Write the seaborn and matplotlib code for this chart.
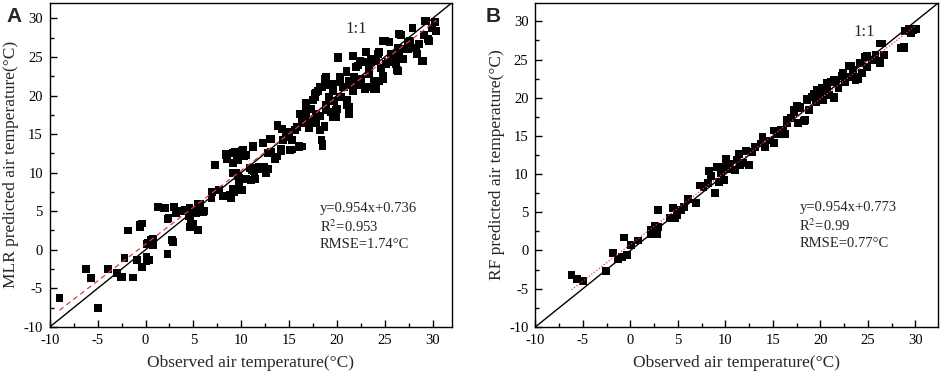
import numpy as np
import pandas as pd
import matplotlib
matplotlib.use("Agg")
import matplotlib.pyplot as plt
import seaborn as sns
from matplotlib.ticker import MultipleLocator

sns.set_theme(style="white")
plt.rcParams['font.family'] = ['Liberation Serif', 'DejaVu Serif']
plt.rcParams['mathtext.fontset'] = 'stix'
plt.rcParams['axes.unicode_minus'] = False

# ---------------- Panel A: MLR ----------------
mlr_obs = [-9.0, -6.2, -5.7, -5.0, -3.9, -3.0, -2.6, -2.2, -1.3, -1.8, -0.9, -0.6, -0.4, -0.4, 0.1, 0.4,
           0.2, 0.8, 0.8, 1.3, 1.9, 2.3, 2.3, 2.8, 2.9, 3.0, 3.2, 3.7, 4.1, 4.5, 4.7, 4.7, 4.9, 5.3, 5.5,
           5.5, 6.1, 6.9, 6.9, 7.3, 7.7, 8.3, 8.4, 8.5, 8.8, 8.9, 9.1, 9.1, 9.3, 9.5, 9.6, 9.7, 9.8, 9.8,
           10.1, 10.1, 10.3, 10.5, 10.9, 11.0, 11.2, 11.3, 11.6, 11.9, 12.3, 12.4, 12.6, 12.8, 13.0, 13.1,
           13.5, 13.7, 13.8, 14.2, 14.3, 14.4, 14.7, 15.0, 15.3, 15.3, 15.6, 15.8, 16.0, 16.3, 16.4, 16.6,
           16.8, 17.1, 17.3, 17.5, 17.7, 17.8, 18.0, 18.2, 18.4, 18.5, 18.7, 18.7, 18.9, 19.2, 19.4, 19.6,
           19.7, 19.9, 20.0, 20.1, 20.3, 20.4, 20.8, 21.0, 21.1, 21.3, 21.5, 21.7, 21.8, 22.2, 22.3, 22.7,
           22.9, 23.0, 23.4, 23.6, 23.9, 24.1, 24.3, 24.6, 24.8, 25.0, 25.3, 25.5, 25.8, 26.2, 26.3, 26.5,
           26.9, 27.0, 27.4, 27.9, 28.3, 28.4, 28.9, 29.2, 29.1, 29.6, 29.9, 30.2, 30.4,
           # dense cluster
           29.3, 30.3, 30.4, 27.9, 26.7, 25.5, 24.8, 27.6, 28.6, 29.5, 26.4, 27.4, 28.4, 29.0, 24.4, 25.7,
           26.5, 23.1, 21.7, 20.1, 26.2, 26.4, 25.1, 24.1, 23.4, 22.4, 22.0, 21.0, 23.4, 24.8, 24.4, 23.9,
           23.1, 22.5, 21.3, 20.3, 18.9, 19.6, 20.6, 21.7, 18.5, 17.8, 19.2, 20.3, 21.1, 21.3, 21.3, 19.9,
           18.9, 19.6, 18.7, 17.5, 16.8, 17.8, 17.1, 16.4, 18.2,
           # middle
           8.4, 9.3, 10.2, 9.7, 11.2, 12.3, 13.1, 13.8, 14.7, 15.6, 16.1, 15.1, 14.2, 16.1, 17.0, 17.8,
           18.7, 18.4, 18.5, 16.8, 17.7, 18.2, 18.9, 12.8, 11.9, 11.1, 11.4, 10.5, 9.8, 9.5, 9.1, 10.0,
           9.1, 8.1, 7.0, 8.9, 5.7,
           # lower
           2.0, 3.0, 4.6, 5.5, 5.3, 6.0, 5.0, 4.6, 5.5, 2.4, 2.9, 0.6, 0.1, -0.6, 0.1, -2.5]
mlr_pred = [-6.3, -2.5, -3.7, -7.5, -2.5, -3.0, -3.5, -1.1, -3.6, 2.5, -1.3, 2.9, 3.4, -2.2, -0.9, -1.3,
            0.9, 1.4, 0.6, 5.5, 5.4, 4.0, -0.6, 1.3, 1.0, 5.5, 4.7, 5.0, 5.2, 4.4, 5.2, 3.8, 2.9, 4.7, 2.6,
            5.9, 5.0, 7.5, 6.7, 11.0, 7.7, 6.9, 12.4, 11.7, 7.1, 6.7, 12.5, 9.9, 7.5, 12.7, 12.0, 9.6, 8.2, 9.3,
            12.8, 7.7, 12.1, 12.3, 10.6, 9.1, 13.3, 10.2, 10.6, 10.4, 13.8, 10.8, 10.0, 12.6, 14.4, 12.7,
            11.7, 12.1, 16.2, 12.8, 15.7, 14.2, 14.6, 15.3, 14.2, 13.0, 15.5, 15.9, 13.3, 16.6, 13.4, 17.2,
            17.8, 15.8, 18.3, 16.8, 19.8, 16.4, 20.6, 17.4, 14.2, 13.7, 16.0, 22.2, 18.8, 21.4, 17.9, 20.6,
            19.3, 17.2, 18.3, 24.9, 21.8, 19.8, 21.1, 23.0, 18.8, 17.7, 21.4, 25.1, 22.4, 23.9, 21.4, 24.3,
            20.9, 25.6, 23.0, 24.7, 21.9, 20.8, 25.4, 23.6, 22.1, 27.1, 24.3, 26.9, 25.4, 24.3, 23.3, 28.0,
            24.7, 26.0, 26.9, 28.8, 26.2, 25.4, 24.5, 29.7, 27.8, 27.1, 28.8, 29.6, 28.3,
            # dense cluster
            29.7, 29.5, 28.4, 28.8, 27.9, 26.9, 27.1, 27.1, 26.7, 27.3, 26.2, 26.0, 25.4, 24.5, 25.6, 25.4,
            25.2, 25.6, 25.2, 25.0, 24.1, 23.2, 24.1, 24.5, 24.1, 24.5, 23.7, 23.2, 22.8, 22.6, 21.9, 20.9,
            21.1, 22.2, 21.9, 22.4, 22.4, 21.5, 21.1, 20.6, 21.1, 20.4, 19.8, 19.8, 19.4, 18.5, 17.6, 18.1,
            18.5, 17.2, 16.1, 19.4, 18.5, 17.6, 16.8, 16.4, 15.5,
            # middle
            12.3, 12.7, 12.9, 11.6, 13.5, 13.8, 14.4, 16.1, 15.3, 15.5, 13.5, 12.9, 13.1, 17.6, 16.6, 16.4,
            15.9, 14.2, 13.5, 19.0, 20.2, 21.1, 18.1, 10.5, 10.7, 10.3, 9.2, 9.2, 9.0, 9.9, 11.2, 7.7,
            7.9, 7.0, 7.5, 6.8, 6.0,
            # lower
            5.4, 5.6, 5.4, 6.0, 4.9, 4.9, 3.4, 3.0, 2.6, 4.1, 1.0, 1.3, 0.8, 3.2, -1.5, -3.5]

# ---------------- Panel B: RF ----------------
rf_obs = [-6.2, -5.6, -5.0, -2.6, -1.8, -1.3, -0.9, -0.7, -0.4, 0.1, 0.8, 2.2, 2.2, 2.6, 2.8, 2.9, 2.9,
          4.2, 4.5, 4.7, 4.9, 5.3, 5.6, 6.1, 6.9, 7.3, 7.7, 8.2, 8.3, 8.5, 8.9, 9.1, 9.3, 9.5, 9.6, 9.9,
          10.1, 10.3, 10.5, 11.0, 11.2, 11.4, 11.5, 11.9, 12.2, 12.5, 12.8, 13.1, 13.7, 13.9, 14.2, 14.7,
          15.1, 15.1, 15.4, 15.8, 16.3, 16.5, 16.9, 17.2, 17.5, 17.6, 17.9, 18.3, 18.6, 18.8, 19.1, 19.5,
          19.6, 20.0, 20.2, 20.3, 20.7, 20.9, 21.1, 21.4, 21.7, 21.9, 22.3, 22.6, 23.0, 23.1, 23.4, 23.7,
          24.0, 24.2, 24.4, 24.7, 24.9, 25.4, 25.8, 26.3, 26.5, 26.7, 28.5, 28.8, 28.9, 29.5, 29.6, 30.1,
          # dense cluster
          26.3, 28.8, 29.3, 29.8, 24.9, 26.3, 24.2, 23.2, 22.4, 23.5, 21.4, 20.7, 20.3, 19.3, 18.6, 17.9,
          17.2, 16.5, 16.1, 18.4, 21.4, 20.0]
rf_pred = [-3.2, -3.7, -4.0, -2.7, -0.3, -1.1, -0.9, 1.7, -0.6, 0.7, 1.3, 2.7, 2.1, 3.2, 2.2, 5.3, 3.1,
           4.2, 5.6, 4.3, 4.6, 5.3, 5.7, 6.7, 6.2, 8.5, 8.3, 8.8, 10.4, 9.8, 7.5, 10.9, 9.0, 10.1, 10.9, 9.2,
           12.0, 10.7, 11.3, 10.5, 11.8, 12.6, 11.2, 11.4, 13.0, 11.2, 12.9, 13.6, 14.0, 14.9, 13.6, 14.4,
           15.7, 14.1, 15.3, 15.8, 15.3, 16.7, 17.3, 18.1, 18.9, 16.7, 18.6, 17.0, 19.9, 18.4, 20.1, 19.4,
           21.0, 20.3, 21.3, 19.7, 21.1, 20.4, 22.1, 20.0, 22.3, 21.3, 22.9, 22.1, 24.2, 22.7, 23.6, 22.3,
           22.5, 24.5, 23.2, 25.3, 24.0, 24.9, 25.6, 24.5, 27.1, 25.6, 26.5, 26.5, 28.7, 28.4, 28.9, 29.0,
           # dense cluster
           27.1, 26.6, 29.0, 28.8, 25.5, 24.8, 24.5, 24.2, 23.2, 22.7, 22.3, 21.9, 21.0, 20.5, 19.7, 18.8,
           18.4, 17.1, 15.8, 17.1, 20.1, 20.5]

panels = [
    dict(label="A", obs=mlr_obs, pred=mlr_pred, slope=0.954, icpt=0.736, r2="0.953", rmse="1.74",
         ylabel="MLR predicted air temperature(°C)", lim=(-10, 32.0), ls=(0, (4, 3)),
         rect=[0.053, 0.133, 0.427, 0.859], txt=(18.2, 5.4), one=(22.0, 28.6), let=(0.007, 0.955)),
    dict(label="B", obs=rf_obs, pred=rf_pred, slope=0.954, icpt=0.773, r2="0.99", rmse="0.77",
         ylabel="RF predicted air temperature(°C)", lim=(-10, 32.4), ls=(0, (1, 1.5)),
         rect=[0.569, 0.133, 0.428, 0.859], txt=(17.8, 5.6), one=(24.6, 28.6), let=(0.516, 0.955)),
]

fig = plt.figure(figsize=(9.41, 3.77), dpi=100)
for p in panels:
    ax = fig.add_axes(p["rect"])
    df = pd.DataFrame({"obs": p["obs"], "pred": p["pred"]})
    # 1:1 line
    ax.axline((0, 0), slope=1, color="black", lw=1.0, zorder=1)
    sns.scatterplot(data=df, x="obs", y="pred", marker="s", s=32, color="black",
                    edgecolor="none", linewidth=0, ax=ax, zorder=2)
    xs = np.array([df["obs"].min(), df["obs"].max()])
    fit = pd.DataFrame({"x": xs, "y": p["slope"] * xs + p["icpt"]})
    sns.lineplot(data=fit, x="x", y="y", color="#e8383d", lw=0.9, ax=ax, zorder=3)
    ax.lines[-1].set_linestyle(p["ls"])
    ax.set_xlim(*p["lim"])
    ax.set_ylim(*p["lim"])
    ax.xaxis.set_major_locator(MultipleLocator(5))
    ax.yaxis.set_major_locator(MultipleLocator(5))
    ax.xaxis.set_minor_locator(MultipleLocator(2.5))
    ax.yaxis.set_minor_locator(MultipleLocator(2.5))
    ax.tick_params(which="both", direction="in", bottom=True, left=True, top=False, right=False,
                   labelsize=10.5, colors="black", pad=5)
    ax.tick_params(which="major", length=5, width=1)
    ax.tick_params(which="minor", length=3, width=1)
    for s in ax.spines.values():
        s.set_color("black")
        s.set_linewidth(1.0)
    ax.set_xlabel("Observed air temperature(°C)", fontsize=12.5, labelpad=6)
    ax.set_ylabel(p["ylabel"], fontsize=12.5, labelpad=3)
    tx, ty = p["txt"]
    ax.text(tx, ty, f"y={p['slope']}x+{p['icpt']}", fontsize=10.5, va="center", ha="left")
    ax.text(tx, ty - 2.4, f"R$^2$={p['r2']}", fontsize=10.5, va="center", ha="left")
    ax.text(tx, ty - 4.75, f"RMSE={p['rmse']}°C", fontsize=10.5, va="center", ha="left")
    ax.text(p["one"][0], p["one"][1], "1:1", fontsize=12, ha="center", va="center")
    fig.text(p["let"][0], p["let"][1], p["label"], fontsize=15, fontweight="bold",
             family=["Liberation Sans", "DejaVu Sans"], va="center", ha="left")

fig.savefig("out.png", dpi=100)
